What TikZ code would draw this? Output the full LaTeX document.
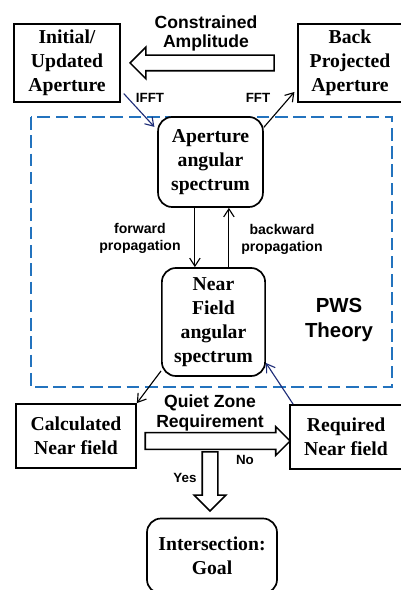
\documentclass[tikz,border=0pt]{standalone}
\usepackage{fontspec}
\setmainfont{Liberation Serif}
\setsansfont{Liberation Sans}
\usetikzlibrary{shapes.arrows, arrows.meta, positioning, calc}
\definecolor{pwsblue}{RGB}{35,115,190}
\definecolor{navyline}{RGB}{30,45,120}
\tikzset{
    stepbox/.style={rectangle, draw=black, fill=white, line width=1.2pt, align=center, inner sep=2pt, font=\bfseries\fontsize{14}{17}\selectfont},
    specbox/.style={stepbox, rounded corners=10pt},
    hollowarrow/.style={single arrow, draw=black, fill=white, line width=1.1pt, single arrow head extend=#1},
    thinarrow/.style={-{Straight Barb[length=2mm, width=2.6mm]}, line width=0.8pt, draw=#1},
    flowlabel/.style={font=\sffamily\bfseries\fontsize{9.5}{11.5}\selectfont, align=center, inner sep=0pt},
    biglabel/.style={font=\sffamily\bfseries\fontsize{12.5}{14}\selectfont, align=center, inner sep=0pt},
    theorylabel/.style={font=\sffamily\bfseries\fontsize{14.5}{18}\selectfont, align=center, inner sep=0pt}
}

\begin{document}
\begin{tikzpicture}[x=0.025cm, y=-0.025cm]
\useasboundingbox (0,0) rectangle (400,590);

% PWS region
\draw[pwsblue, line width=1.3pt, dash pattern=on 9pt off 4pt] (31,117) rectangle (392,387);
\node[theorylabel] (pws) at (339,320) {PWS\\Theory};

% aperture update loop
\node[stepbox, minimum width=2.65cm, minimum height=1.95cm] (init) at (67,63) {Initial/\\Updated\\Aperture};
\node[stepbox, minimum width=2.6cm, minimum height=1.95cm] (back) at (350,63) {Back\\Projected\\Aperture};
\node[hollowarrow=0.2cm, inner sep=0.175cm, shape border rotate=180, minimum height=3.6cm] (larr) at (206,63) {};
\node[biglabel, above=2pt of larr] (constr) {Constrained\\Amplitude};

% angular spectra
\node[specbox, minimum width=2.62cm, minimum height=2.25cm] (ap) at (210.5,162) {Aperture\\angular\\spectrum};
\node[specbox, minimum width=2.58cm, minimum height=2.7cm] (nf) at (213.5,322) {Near\\Field\\angular\\spectrum};

% near field check
\node[stepbox, minimum width=3cm, minimum height=1.6cm] (calc) at (76,436) {Calculated\\Near field};
\node[stepbox, minimum width=2.8cm, minimum height=1.6cm] (req) at (346,437) {Required\\Near field};
\node[hollowarrow=0.2cm, inner sep=0.175cm, shape border rotate=270, minimum height=1.48cm] (darr) at (210,477.5) {};
\node[hollowarrow=0.15cm, inner sep=0.19cm, minimum height=3.62cm] (rarr) at (213.5,441) {};
\node[biglabel] (qz) at (210,413) {Quiet Zone\\Requirement};
\node[flowlabel] (no) at (245,460) {No};
\node[flowlabel] (yes) at (185,478) {Yes};
\node[specbox, minimum width=3.25cm, minimum height=1.875cm] (goal) at (212,556) {Intersection:\\Goal};

% transforms
\draw[thinarrow=navyline, shorten <=3pt, shorten >=3pt] (init.-27) -- (ap.149);
\node[flowlabel] (ifft) at (150,98) {IFFT};
\draw[thinarrow=black, shorten >=3pt] (ap.33) -- (back.206);
\node[flowlabel] (fft) at (258,98) {FFT};

% propagation
\draw[thinarrow=black] ([xshift=-3.9mm]ap.south) -- ([xshift=-3.9mm]ap.south |- nf.north);
\draw[thinarrow=black] ([xshift=4.6mm]ap.south |- nf.north) -- ([xshift=4.6mm]ap.south);
\node[flowlabel, font=\sffamily\bfseries\fontsize{10}{12}\selectfont] (fwd) at (140,238) {forward\\propagation};
\node[flowlabel, font=\sffamily\bfseries\fontsize{10}{12}\selectfont] (bwd) at (282,239) {backward\\propagation};

\draw[thinarrow=black] (nf.223) -- (calc.north east);
\draw[thinarrow=navyline] ([xshift=1mm]req.north west) -- (nf.-38);

\end{tikzpicture}
\end{document}
